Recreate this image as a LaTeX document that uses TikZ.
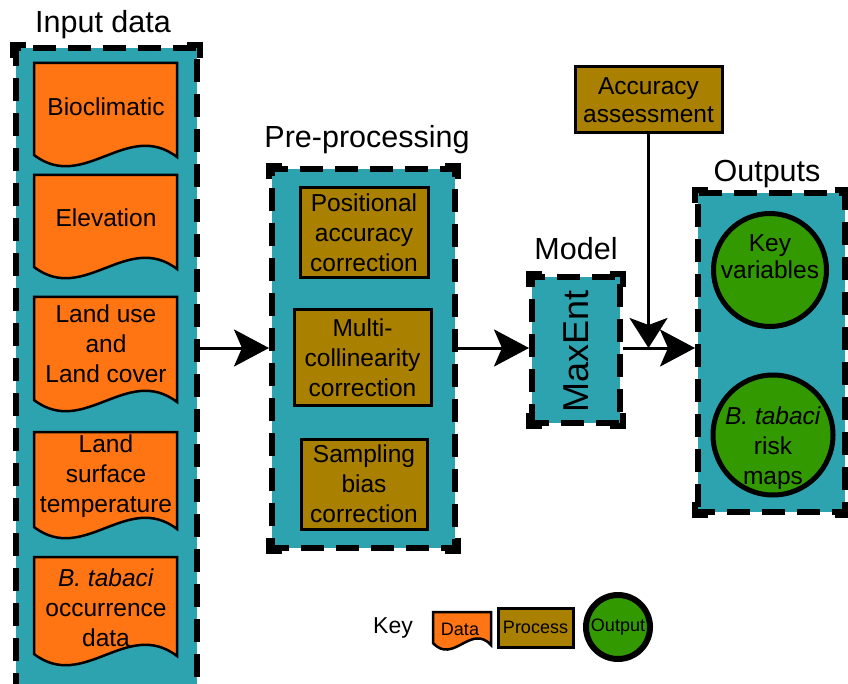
\documentclass[tikz,border=0pt]{standalone}
\usepackage{fontspec}
\setmainfont{Liberation Sans}
\usetikzlibrary{arrows.meta}
\definecolor{cteal}{HTML}{2EA3B0}
\definecolor{corange}{HTML}{FF7514}
\definecolor{cproc}{HTML}{AA8000}
\definecolor{cgreen}{HTML}{339900}
\newcommand{\dshape}[5]{%
  \draw[datast] (#1,#2) -- (#3,#2) -- (#3,{#4+2})
    .. controls ({#3-0.35*(#3-#1)},{#4+2-#5}) and ({#1+0.35*(#3-#1)},{#4+#5}) .. (#1,#4) -- cycle;}
\newcommand{\boxcorners}[1]{%
  \draw[cornerst] ([yshift=-13pt]#1.north west) -- (#1.north west) -- ([xshift=13pt]#1.north west);
  \draw[cornerst] ([yshift=-13pt]#1.north east) -- (#1.north east) -- ([xshift=-13pt]#1.north east);
  \draw[cornerst] ([yshift=13pt]#1.south west) -- (#1.south west) -- ([xshift=13pt]#1.south west);
  \draw[cornerst] ([yshift=13pt]#1.south east) -- (#1.south east) -- ([xshift=-13pt]#1.south east);}
\tikzset{
  container/.style={draw=black, fill=cteal, line width=6pt, dash pattern=on 23pt off 12pt, dash phase=6pt, rectangle, inner sep=0pt},
  cornerst/.style={line width=6pt, line cap=butt, line join=miter},
  procbox/.style={draw=black, fill=cproc, line width=3pt, rectangle, inner sep=0pt, align=center, font=\fontsize{24.5}{30}\selectfont},
  outcirc/.style={draw=black, fill=cgreen, line width=5pt, circle, inner sep=0pt},
  datast/.style={draw=black, fill=corange, line width=2.5pt},
  txt/.style={align=center, font=\fontsize{24.5}{30}\selectfont, inner sep=0pt},
  title/.style={font=\fontsize{30.5}{36}\selectfont, inner sep=0pt, anchor=base},
  flow/.style={line width=3pt, -{Stealth[length=35pt, width=37pt, inset=8pt]}},
  vflow/.style={line width=3pt, -{Stealth[length=30pt, width=38pt, inset=7pt]}},
}
\begin{document}
\begin{tikzpicture}[x=1pt, y=-1pt]
\useasboundingbox (0,0) rectangle (848,684);
\fill[white] (0,0) rectangle (848,684);

% containers
\node[container, minimum width=181pt, minimum height=652pt] (input) at (106.5,374) {};
\node[container, minimum width=183pt, minimum height=379pt] (pre) at (363.5,358.5) {};
\node[container, minimum width=88pt, minimum height=146pt] (model) at (576,350) {};
\node[container, minimum width=147pt, minimum height=319pt] (outputs) at (771.5,352.5) {};
\boxcorners{input}
\boxcorners{pre}
\boxcorners{model}
\boxcorners{outputs}

% titles
\node[title] (tin) at (103,33) {Input data};
\node[title] (tpre) at (367,148) {Pre-processing};
\node[title] (tmod) at (576,260) {Model};
\node[title] (tout) at (767,182) {Outputs};

% data shapes
\dshape{34}{63}{177}{155}{38}
\dshape{34}{175}{177}{267}{38}
\dshape{34}{297}{177}{400}{38}
\dshape{34}{432}{177}{527}{38}
\dshape{34}{557}{177}{654}{38}
\node[txt] (d1) at (106,107) {Bioclimatic};
\node[txt] (d2) at (106,218) {Elevation};
\node[txt] (d3) at (106,344) {Land use\\and\\Land cover};
\node[txt] (d4) at (106,476) {Land\\surface\\temperature};
\node[txt] (d5) at (106,608) {\textit{B. tabaci}\\occurrence\\data};

% processes
\node[procbox, minimum width=128pt, minimum height=90pt] (p1) at (364,233) {Positional\\accuracy\\correction};
\node[procbox, minimum width=137pt, minimum height=95pt] (p2) at (362.5,357.5) {Multi-\\collinearity\\correction};
\node[procbox, minimum width=126pt, minimum height=90pt] (p3) at (364,484) {Sampling\\bias\\correction};

% model
\node[rotate=90, font=\fontsize{36}{40}\selectfont, inner sep=0pt] (maxent) at (576,351.5) {MaxEnt};

% accuracy
\node[procbox, minimum width=147pt, minimum height=66pt, font=\fontsize{24.5}{28}\selectfont] (acc) at (648.5,100) {Accuracy\\assessment};

% outputs
\node[outcirc, minimum size=113pt] (kv) at (770,270) {};
\node[txt, font=\fontsize{24.5}{27}\selectfont] (kvt) at (770,257) {Key\\variables};
\node[outcirc, minimum size=120pt] (bt) at (773,435) {};
\node[txt] (btt) at (773,448) {\textit{B. tabaci}\\risk\\maps};

% connectors
\coordinate (fl) at (0,348);
\draw[flow] (input.east |- fl) -- (pre.west |- fl);
\draw[flow] (pre.east |- fl) -- (model.west |- fl);
\draw[flow] (model.east |- fl) -- (outputs.west |- fl);
\draw[vflow] (acc.south) -- (acc.south |- fl);

% key
\node[font=\fontsize{23}{28}\selectfont, anchor=base, inner sep=0pt] (key) at (393,633) {Key};
\dshape{433}{612}{491}{643}{22}
\node[font=\fontsize{18}{22}\selectfont, inner sep=0pt] (kd) at (460,629) {Data};
\node[procbox, minimum width=75pt, minimum height=39pt, font=\fontsize{18}{22}\selectfont] (kp) at (535.5,627.5) {Process};
\node[outcirc, minimum size=64pt, line width=6pt, font=\fontsize{18}{22}\selectfont] (ko) at (618,627) {Output};
\end{tikzpicture}
\end{document}
